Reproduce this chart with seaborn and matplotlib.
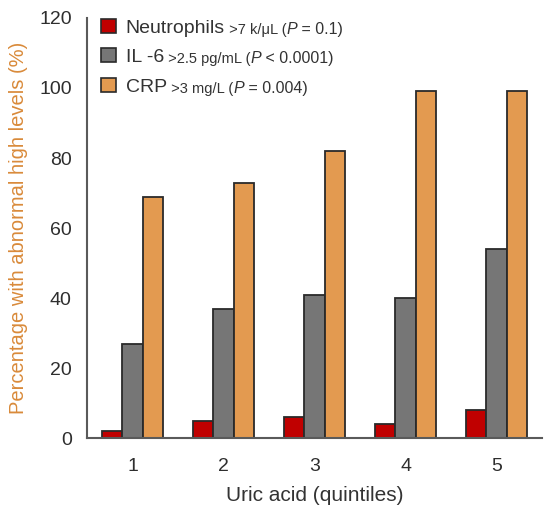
"""Abnormal inflammatory markers by uric acid quintile."""

import matplotlib.pyplot as plt
import pandas as pd
import seaborn as sns
from matplotlib.patches import Patch

quintiles = ["1", "2", "3", "4", "5"]
markers = ["Neutrophils", "IL-6", "CRP"]
neutrophils = [2, 5, 6, 4, 8]
il6 = [27, 37, 41, 40, 54]
crp = [69, 73, 82, 99, 99]
thresholds = [">7 k/\u03bcL", ">2.5 pg/mL", ">3 mg/L"]
p_values = ["= 0.1)", "< 0.0001)", "= 0.004)"]
legend_names = ["Neutrophils", "IL -6", "CRP"]

colors = ["#c00000", "#767676", "#e39a50"]
label_color = "#d98a3a"
spine_color = "#5a5a5a"

df = pd.DataFrame({
    "quintile": quintiles * 3,
    "marker": [m for m in markers for _ in quintiles],
    "pct": neutrophils + il6 + crp,
})

sns.set_theme(style="white")
plt.rcParams["font.family"] = ["Liberation Sans", "DejaVu Sans"]

fig = plt.figure(figsize=(5.48, 5.13), dpi=100)
ax = fig.add_axes([0.159, 0.146, 0.83, 0.819])

sns.barplot(data=df, x="quintile", y="pct", hue="marker", hue_order=markers,
            palette=colors, width=0.67, gap=0, edgecolor="#2a2a2a", linewidth=1.3,
            saturation=1, legend=False, ax=ax)

ax.set_xlim(-0.5, 4.5)
ax.set_ylim(0, 120)
ax.set_yticks(range(0, 121, 20))
ax.set_xticks([i - 0.5 for i in range(6)], minor=True)
ax.tick_params(axis="x", which="major", length=0, pad=14, labelsize=14, labelcolor="#2e2e2e")
ax.tick_params(axis="x", which="minor", length=6, width=1.2, color=spine_color, direction="out")
ax.tick_params(axis="y", length=5, width=1.2, color=spine_color, direction="out",
               labelsize=14, labelcolor="#2e2e2e", pad=6)
for side in ["top", "right"]:
    ax.spines[side].set_visible(False)
for side in ["left", "bottom"]:
    ax.spines[side].set_color(spine_color)
    ax.spines[side].set_linewidth(1.5)

ax.set_xlabel("Uric acid (quintiles)", fontsize=15, color="#333333", labelpad=8)
ax.set_ylabel("Percentage with abnormal high levels (%)", fontsize=14.5, color=label_color, labelpad=8)

handles = [Patch(facecolor=c, edgecolor="#2a2a2a", linewidth=1.2) for c in colors]
leg = ax.legend(handles, legend_names, loc="upper left", bbox_to_anchor=(-0.007, 1.04),
                frameon=False, fontsize=14, handlelength=0.75, handleheight=0.75,
                handletextpad=0.5, labelspacing=0.6, labelcolor="#333333")

fig.canvas.draw()

# thresholds and P values in smaller type after each legend name
for txt, thr, pv in zip(leg.get_texts(), thresholds, p_values):
    t1 = ax.annotate(f" {thr} (", xy=(1, 0), xycoords=txt, va="bottom",
                     fontsize=10.5, color="#333333", zorder=6)
    t2 = ax.annotate("P", xy=(1, 0), xycoords=t1, va="bottom",
                     fontsize=11.5, style="italic", color="#333333", zorder=6)
    ax.annotate(f" {pv}", xy=(1, 0), xycoords=t2, va="bottom",
                fontsize=11.5, color="#333333", zorder=6)

fig.savefig("out.png", dpi=100)
